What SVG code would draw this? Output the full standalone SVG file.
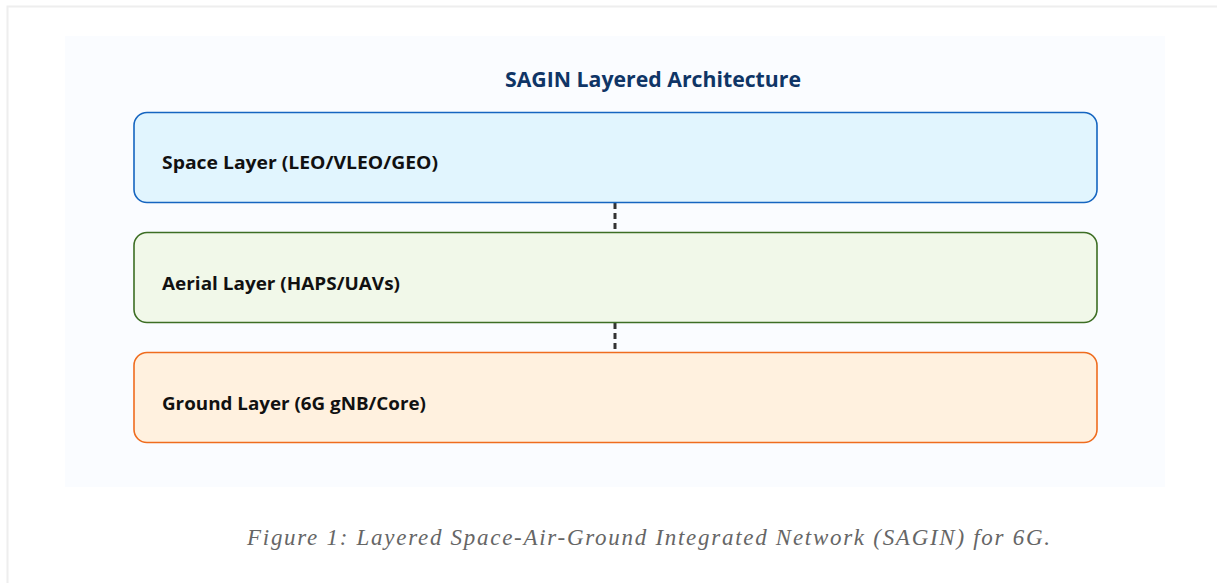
<svg xmlns="http://www.w3.org/2000/svg" width="1217" height="583" viewBox="0 0 1217 583">
  <style>
    .layer { stroke-width: 1.6; }
    .lbl { font-family: "Open Sans", "Noto Sans", "DejaVu Sans", sans-serif; font-weight: bold; font-size: 18px; fill: #111; }
    .title { font-family: "Open Sans", "Noto Sans", "DejaVu Sans", sans-serif; font-weight: bold; font-size: 21px; fill: #0f3566; }
    .cap { font-family: "Liberation Serif", "Times New Roman", serif; font-style: italic; font-size: 23px; fill: #666; }
    .conn { stroke: #333; stroke-width: 3; stroke-dasharray: 6 4; fill: none; }
  </style>
  <rect x="0" y="0" width="1217" height="583" fill="#ffffff"/>
  <path d="M7.5,590 V6.5 H1217" fill="none" stroke="#eeeeee" stroke-width="2"/>
  <rect x="65" y="36" width="1100" height="451" fill="#fafcff"/>
  <text class="title" x="505" y="87" textLength="296" lengthAdjust="spacingAndGlyphs">SAGIN Layered Architecture</text>
  <g id="connectors">
    <line class="conn" x1="615" y1="203" x2="615" y2="233"/>
    <line class="conn" x1="615" y1="323" x2="615" y2="353"/>
  </g>
  <g id="space">
    <rect class="layer" x="134" y="112.5" width="963" height="90" rx="13" fill="#e1f5fe" stroke="#1565c0"/>
    <text class="lbl" x="162" y="169" textLength="276" lengthAdjust="spacingAndGlyphs">Space Layer (LEO/VLEO/GEO)</text>
  </g>
  <g id="aerial">
    <rect class="layer" x="134" y="232.5" width="963" height="90" rx="13" fill="#f1f8e9" stroke="#3d6e24"/>
    <text class="lbl" x="162" y="290" textLength="238" lengthAdjust="spacingAndGlyphs">Aerial Layer (HAPS/UAVs)</text>
  </g>
  <g id="ground">
    <rect class="layer" x="134" y="352.5" width="963" height="90" rx="13" fill="#fff1df" stroke="#ef6c1e"/>
    <text class="lbl" x="162" y="410" textLength="264" lengthAdjust="spacingAndGlyphs">Ground Layer (6G gNB/Core)</text>
  </g>
  <text class="cap" x="247" y="545" textLength="803" lengthAdjust="spacing">Figure 1: Layered Space-Air-Ground Integrated Network (SAGIN) for 6G.</text>
</svg>
